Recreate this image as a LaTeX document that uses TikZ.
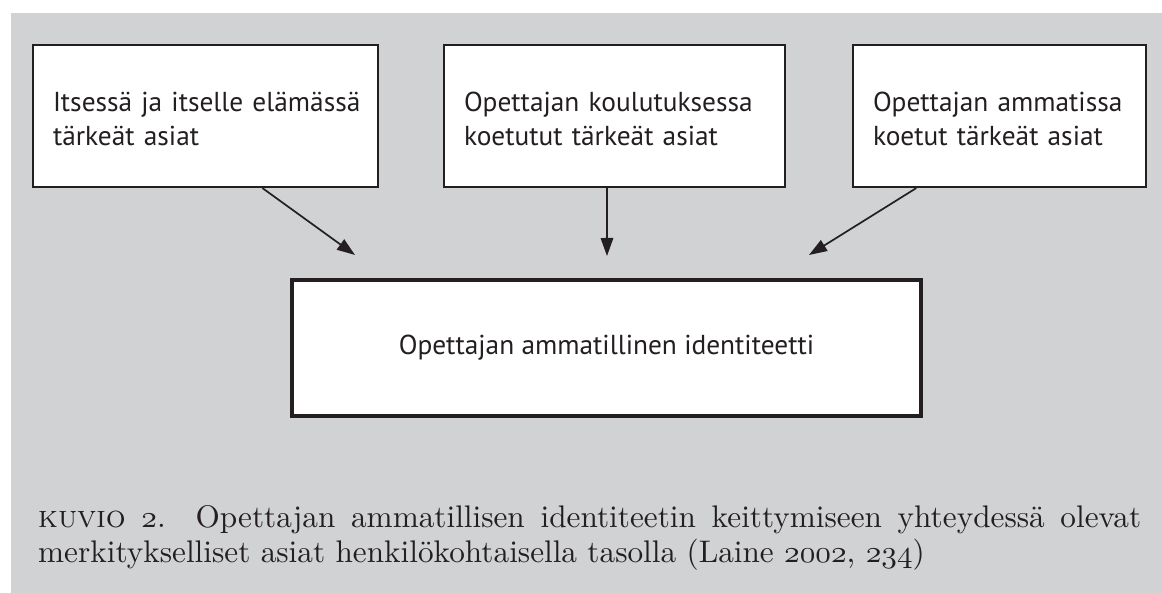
\documentclass[tikz,border=0pt]{standalone}
\usepackage{fontspec}
\usepackage{graphicx}
\usetikzlibrary{arrows.meta,calc}
\newfontfamily\boxfont{PT Sans}
\definecolor{panel}{HTML}{D1D2D4}
\definecolor{ink}{HTML}{231F20}
% old-style figures taken from the math italic font
\newcommand\osnum[1]{\ensuremath{\mathnormal{#1}}}
\newcommand\captionfirst{\textsc{kuvio} \osnum{2}. Opettajan ammatillisen identiteetin keittymiseen yhteydessä olevat}
\newcommand\captionsecond{merkitykselliset asiat henkilökohtaisella tasolla (Laine \osnum{2002}, \osnum{234})}
\newsavebox\caplineone
\newlength\capnatural
\newlength\boxnatural

% size the box lettering and the caption from their widths (measured
% outside the picture, where a real font is in force)
\AtBeginDocument{%
  \settowidth\boxnatural{\boxfont\fontsize{10pt}{12pt}\selectfont Itsessä ja itselle elämässä}%
  \pgfmathsetmacro\boxsize{10*302/\boxnatural}%
  \sbox\caplineone{\fontsize{10pt}{12pt}\selectfont\captionfirst}%
  \setlength\capnatural{\wd\caplineone}%
  \pgfmathsetmacro\capscale{1055/\capnatural}%
  \pgfmathsetmacro\capwidth{1103/\capscale}%
}

\tikzset{
  srcbox/.style={draw=ink, line width=2.2pt, fill=white, rectangle,
    minimum height=142pt, inner xsep=20pt, align=left, text=ink,
    font=\boxfont\fontsize{\boxsize pt}{34pt}\selectfont},
  goalbox/.style={draw=ink, line width=4pt, fill=white, rectangle,
    minimum width=629pt, minimum height=136pt, text=ink,
    font=\boxfont\fontsize{\boxsize pt}{34pt}\selectfont},
  flow/.style={draw=ink, line width=1.7pt, -{Triangle[length=18pt,width=12.5pt]}},
  captext/.style={inner sep=0pt, text=ink}
}

\begin{document}
\begin{tikzpicture}[x=1pt,y=-1pt]
  \useasboundingbox (0,0) rectangle (1162,593);
  \fill[panel] (11,13) rectangle (1162,593);

  % the three sources
  \node[srcbox, minimum width=345pt, text width=305pt] (b1) at (205.5,116)
    {\mbox{\rule{0pt}{26pt}Itsessä ja itselle elämässä}\\\mbox{tärkeät asiat}};
  \node[srcbox, minimum width=341pt, text width=301pt] (b2) at (614.5,116)
    {\mbox{\rule{0pt}{26pt}Opettajan koulutuksessa}\\\mbox{koetutut tärkeät asiat}};
  \node[srcbox, minimum width=293pt, text width=253pt] (b3) at (999.5,116)
    {\mbox{\rule{0pt}{26pt}Opettajan ammatissa}\\\mbox{koetut tärkeät asiat}};

  % the resulting identity
  \node[goalbox] (id) at (606.5,348) {Opettajan ammatillinen identiteetti};

  % arrow tips, just above the identity box
  \coordinate (t1) at (355,255);
  \coordinate (t2) at (607,256);
  \coordinate (t3) at (809,255);

  \draw[flow] ($(b1.south west)!0.664!(b1.south east)$) -- (t1);
  \draw[flow] ($(b2.south west)!0.478!(b2.south east)$) -- (t2);
  \draw[flow] ($(b3.south west)!0.218!(b3.south east)$) -- (t3);

  % caption, two lines, the first one justified
  \node[captext, anchor=base west] (cap1) at (38,527)
    {\scalebox{\capscale}{\fontsize{10pt}{12pt}\selectfont\makebox[\capwidth pt][s]{\captionfirst}}};
  \node[captext, anchor=base west] (cap2) at (38,562)
    {\scalebox{\capscale}{\fontsize{10pt}{12pt}\selectfont\captionsecond}};
\end{tikzpicture}
\end{document}
